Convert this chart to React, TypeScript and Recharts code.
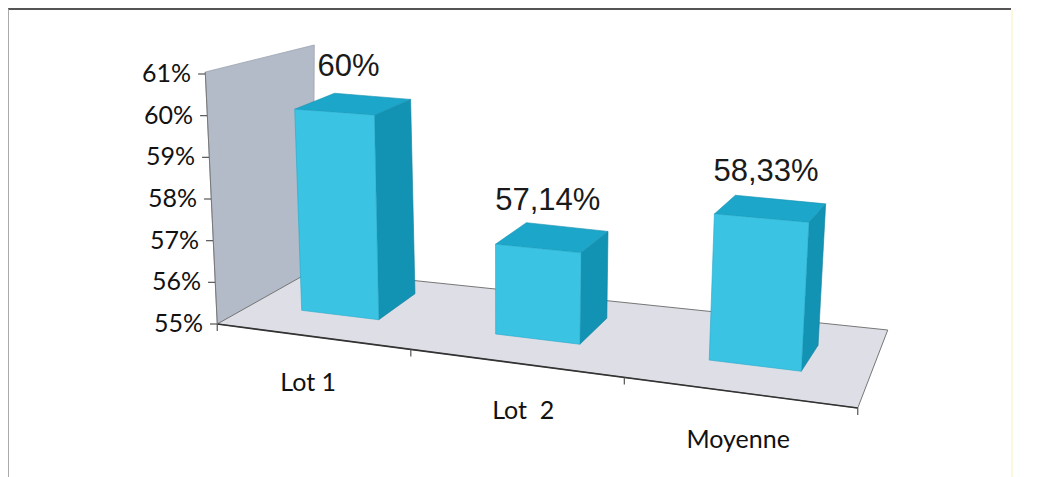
import { BarChart, Bar, XAxis, YAxis, ReferenceArea, LabelList } from "recharts";

const categories = ["Lot 1", "Lot  2", "Moyenne"];
const taux = [60, 57.14, 58.33];
const yTicks = [55, 56, 57, 58, 59, 60, 61];

const data = categories.map((name, i) => ({ name, taux: taux[i] }));

const fmt = (v: number) => (Number.isInteger(v) ? `${v}%` : `${v.toFixed(2).replace(".", ",")}%`);

// fake 3D camera, tuned by eye to the scanned Excel chart
const cam = {
  x0: 340, baseY: 315, tilt: 0.122,
  sX: 300, s0: 0.965, sK: 0.000215,
  leanX: 504, leanK: 0.000171,
  w0: 0.94, wK: 0.00044,
  dx0: 38, dxK: 0.046, dy0: -26, dyK: 0.05,
  bow: 0.000232, bowA: 340, bowB: 755,
};

const floorY = (X: number) => cam.baseY + cam.tilt * (X - cam.x0);
const hScale = (X: number) => cam.s0 + cam.sK * (X - cam.sX);
const pt = (X: number, h: number, d: number) => {
  const lean = (X - cam.leanX) * cam.leanK;
  const dx = cam.dx0 - cam.dxK * (X - cam.x0);
  return [X + lean * h + d * dx, floorY(X) - h + d * (cam.dy0 + cam.dyK * h)];
};
const poly = (pts: number[][]) => pts.map((p) => p.join(",")).join(" ");

function boxGeom(x: number, width: number, height: number) {
  const c = x + width / 2;
  const cx = c - cam.bow * (c - cam.bowA) * (cam.bowB - c);
  const w = width * (cam.w0 + cam.wK * (cx - cam.x0));
  const xl = cx - w / 2;
  const xr = cx + w / 2;
  return { cx, xl, xr, hl: height * hScale(xl), hr: height * hScale(xr), hc: height * hScale(cx) };
}

const Box3D = (props: any) => {
  const { x, width, height } = props;
  if (height == null || height <= 0) return null;
  const g = boxGeom(x, width, height);
  const front = [pt(g.xl, 0, 0), pt(g.xr, 0, 0), pt(g.xr, g.hr, 0), pt(g.xl, g.hl, 0)];
  const side = [pt(g.xr, 0, 0), pt(g.xr, 0, 1), pt(g.xr, g.hr, 1), pt(g.xr, g.hr, 0)];
  const top = [pt(g.xl, g.hl, 0), pt(g.xr, g.hr, 0), pt(g.xr, g.hr, 1), pt(g.xl, g.hl, 1)];
  return (
    <g>
      <polygon points={poly(side)} fill="#1393b4" stroke="#10809e" strokeWidth={0.6} />
      <polygon points={poly(top)} fill="#1ca6c9" stroke="#1690b0" strokeWidth={0.6} />
      <polygon points={poly(front)} fill="#3bc3e4" stroke="#23a9c9" strokeWidth={0.6} />
    </g>
  );
};

const ValueLabel = (props: any) => {
  const vb = props.viewBox || {};
  const x = props.x ?? vb.x;
  const width = props.width ?? vb.width;
  const height = props.height ?? vb.height;
  if (x == null || height == null) return null;
  const g = boxGeom(x, width, height);
  const [tx, ty] = pt(g.cx, g.hc, 0.5);
  return (
    <text x={tx - 5} y={ty - 28} textAnchor="middle" fontFamily="Liberation Sans, Arial, sans-serif" fontSize={31} fill="#1a1a1a">
      {fmt(Number(props.value))}
    </text>
  );
};

// back wall + floor, built on the plot rectangle
const Stage = (props: any) => {
  const { x, y, width, height } = props;
  const by = y + height;
  const A = [x - 19, by];
  const B = [x + 77, by - 54];
  const C = [x + width + 29, by + 6];
  const D = [x + width - 1, by + 84];
  const T1 = [x - 31, y - 2];
  const T2 = [x + 78, y - 29];
  const marks = [0, 1 / 3, 2 / 3, 1].map((u) => {
    const v = u - 0.14 * u * (1 - u);
    return [A[0] + v * (D[0] - A[0]), A[1] + v * (D[1] - A[1])];
  });
  return (
    <g>
      <polygon points={poly([T1, T2, B, A])} fill="#b3bbc9" stroke="#9aa2ae" strokeWidth={0.8} />
      <polygon points={poly([A, B, C, D])} fill="#dddee6" stroke="#777" strokeWidth={1} />
      <line x1={A[0]} y1={A[1]} x2={D[0]} y2={D[1]} stroke="#333" strokeWidth={1.6} />
      <line x1={T1[0]} y1={T1[1]} x2={A[0]} y2={A[1]} stroke="#777" strokeWidth={1} />
      {marks.map((m, i) => (
        <line key={i} x1={m[0]} y1={m[1]} x2={m[0]} y2={m[1] + 7} stroke="#555" strokeWidth={1.2} />
      ))}
    </g>
  );
};

const YTick = (props: any) => {
  const { y, payload } = props;
  const ax = 217 - (324 - y) * 0.0476;
  return (
    <g>
      <line x1={ax - 7} y1={y} x2={ax} y2={y} stroke="#555" strokeWidth={1.2} />
      <text x={ax - 14} y={y + 8} textAnchor="end" fontFamily="Lato, sans-serif" fontSize={25} fill="#111">
        {payload.value}%
      </text>
    </g>
  );
};

const XTick = (props: any) => {
  const { x, payload } = props;
  return (
    <text x={1.036 * x - 44} y={391 + 0.137 * (x - 340)} textAnchor="middle" fontFamily="Lato, sans-serif" fontSize={25} fill="#111" style={{ whiteSpace: "pre" }}>
      {payload.value}
    </text>
  );
};

const App = () => (
  <div style={{ position: "absolute", left: 0, top: 0, width: 1048, height: 477, background: "#fff" }}>
    <div style={{ position: "absolute", left: 8, top: 8, width: 1002, height: 469, borderTop: "2px solid #555", borderLeft: "1px solid #aaa" }} />
    <div style={{ position: "absolute", left: 1011, top: 10, width: 2, height: 467, background: "#fbf8dc" }} />
    <BarChart width={1048} height={477} data={data} margin={{ top: 74, right: 189.25, bottom: 123, left: 176.25 }}>
      <XAxis dataKey="name" axisLine={false} tickLine={false} tick={<XTick />} height={30} interval={0} />
      <YAxis domain={[55, 61]} ticks={yTicks} axisLine={false} tickLine={false} tick={<YTick />} width={60} />
      <ReferenceArea y1={55} y2={61} shape={<Stage />} ifOverflow="visible" />
      <Bar dataKey="taux" barSize={82} shape={<Box3D />} isAnimationActive={false}>
        <LabelList dataKey="taux" content={<ValueLabel />} />
      </Bar>
    </BarChart>
  </div>
);

export default App;
